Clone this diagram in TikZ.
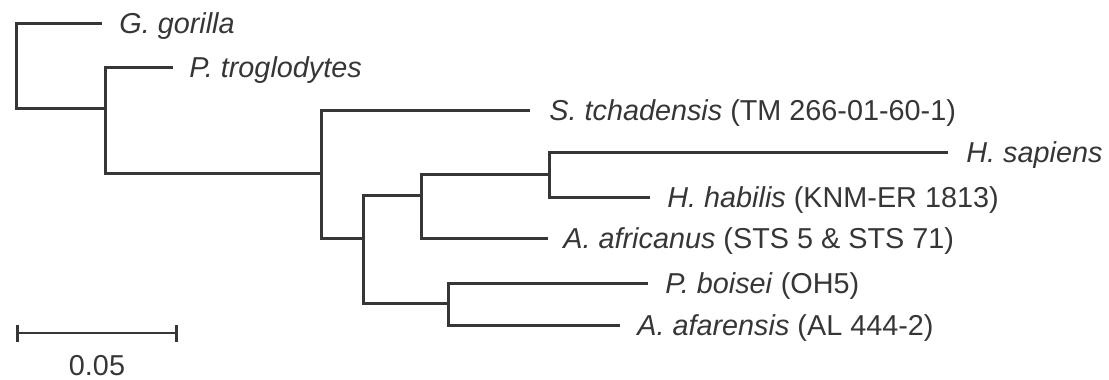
\documentclass[tikz,border=0pt]{standalone}
\usepackage{fontspec}
\setmainfont{Liberation Sans}
\definecolor{ink}{HTML}{363636}
\begin{document}
\begin{tikzpicture}[x=0.5pt,y=-0.5pt,
  branch/.style={draw=ink,line width=1.5pt,line join=miter},
  leaf/.style={anchor=base west,inner sep=0pt,text=ink,font=\fontsize{14.4pt}{17pt}\selectfont}]
\useasboundingbox (0,0) rectangle (1109,380);

% internal nodes (x of the vertical bar, y of the incoming branch)
\coordinate (root) at (16,65);
\coordinate (n2) at (105,108);
\coordinate (n3) at (321,173);
\coordinate (n4) at (363,238);
\coordinate (n5) at (421,195);
\coordinate (n6) at (549,174);
\coordinate (n7) at (448,303);

% branch tips
\coordinate (tgor) at (102,23);
\coordinate (ttro) at (173,67);
\coordinate (ttch) at (530,110);
\coordinate (tsap) at (948,152);
\coordinate (thab) at (650,197);
\coordinate (tafr) at (548,238);
\coordinate (tboi) at (648,283);
\coordinate (tafa) at (620,325);

% taxon labels
\node[leaf] (gor) at (119,33) {\textit{G. gorilla}};
\node[leaf] (tro) at (189,77) {\textit{P. troglodytes}};
\node[leaf] (tch) at (549,120) {\textit{S. tchadensis} (TM 266-01-60-1)};
\node[leaf] (sap) at (966,162) {\textit{H. sapiens}};
\node[leaf] (hab) at (667,207) {\textit{H. habilis} (KNM-ER 1813)};
\node[leaf] (afr) at (563,248) {\textit{A. africanus} (STS 5 \& STS 71)};
\node[leaf] (boi) at (665,293) {\textit{P. boisei} (OH5)};
\node[leaf] (afa) at (637,335) {\textit{A. afarensis} (AL 444-2)};

% tree
\draw[branch] (root) |- (tgor);
\draw[branch] (root) |- (n2);
\draw[branch] (n2) |- (ttro);
\draw[branch] (n2) |- (n3);
\draw[branch] (n3) |- (ttch);
\draw[branch] (n3) |- (n4);
\draw[branch] (n4) |- (n5);
\draw[branch] (n4) |- (n7);
\draw[branch] (n5) |- (n6);
\draw[branch] (n5) |- (tafr);
\draw[branch] (n6) |- (tsap);
\draw[branch] (n6) |- (thab);
\draw[branch] (n7) |- (tboi);
\draw[branch] (n7) |- (tafa);

% scale bar
\coordinate (sbl) at (17,333);
\coordinate (sbr) at (176,333);
\draw[branch,line width=1.2pt] (sbl) -- (sbr);
\draw[branch,line width=1.5pt] ([yshift=4.25pt]sbl) -- ([yshift=-4.25pt]sbl);
\draw[branch,line width=1.5pt] ([yshift=4.25pt]sbr) -- ([yshift=-4.25pt]sbr);
\node[leaf,anchor=base] (sbt) at (97,375) {0.05};
\end{tikzpicture}
\end{document}
